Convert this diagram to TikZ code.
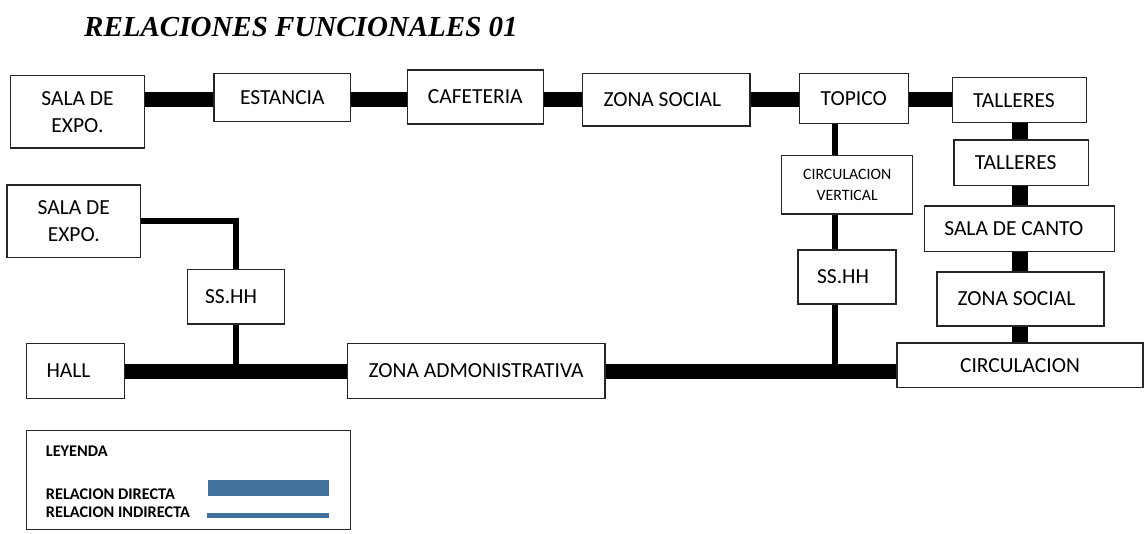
\documentclass[tikz,border=0pt]{standalone}
\usepackage{fontspec}
\setmainfont{Carlito}
\newfontfamily\titlefont{Liberation Serif}
\definecolor{legblue}{RGB}{65,113,156}
\begin{document}
\begin{tikzpicture}[x=1pt,y=-1pt,
  bx/.style={draw=black!85, line width=1.1pt, fill=white, inner sep=0pt,
             font=\fontsize{21.5}{27.3}\selectfont},
  sz/.style 2 args={minimum width=#1pt, minimum height=#2pt},
  smalltxt/.style={font=\fontsize{15.8}{20.3}\selectfont},
  dline/.style={line width=15.5pt, black},
  iline/.style={line width=5.5pt, black},
  legtxt/.style={anchor=base west, inner sep=0pt, font=\bfseries\fontsize{16.3}{19}\selectfont},
  legdir/.style={line width=16pt, legblue},
  legind/.style={line width=5.7pt, legblue}]
\useasboundingbox (0,0) rectangle (1145,533);

% title
\node[anchor=base west, inner sep=0pt,
      font=\titlefont\bfseries\itshape\fontsize{29}{34}\selectfont] (title) at (84,36.7) {RELACIONES FUNCIONALES 01};

% boxes top row
\node[bx, sz={133.6}{72.3}, align=center] (sala1) at (77.5,111.85) {SALA DE\\EXPO.};
\node[bx, sz={136.7}{48.4}] (estancia) at (282.35,97.5) {ESTANCIA};
\node[bx, sz={136}{54}] (cafe) at (475.3,97) {CAFETERIA};
\node[bx, sz={167.3}{52.7}] (zs1) at (666.35,99.65) {ZONA SOCIAL\kern8pt};
\node[bx, sz={109}{50}] (topico) at (853.8,98.3) {TOPICO};
\node[bx, sz={134.4}{45}] (tal1) at (1019.5,100.2) {TALLERES\kern11pt};

% right columns
\node[bx, sz={131}{58.3}, smalltxt, align=center] (cv) at (847.2,184.85) {CIRCULACION\\VERTICAL};
\node[bx, sz={98}{54}] (ssr) at (847,277) {SS.HH\kern8pt};
\node[bx, sz={134.3}{45.7}] (tal2) at (1021.15,162.85) {TALLERES\kern11pt};
\node[bx, sz={190}{45.7}] (canto) at (1019.3,228.85) {SALA DE CANTO\kern11pt};
\node[bx, sz={167}{54}] (zs2) at (1020.5,299) {ZONA SOCIAL\kern8pt};
\node[bx, sz={246}{44.7}] (circ) at (1020,365.35) {CIRCULACION};

% left / bottom
\node[bx, sz={133.7}{72.3}, align=center] (sala2) at (73.85,221.15) {SALA DE\\EXPO.};
\node[bx, sz={96.6}{54.7}] (ssl) at (236,296.65) {SS.HH\kern10pt};
\node[bx, sz={97.6}{55}] (hall) at (75.5,370.8) {HALL\kern14pt};
\node[bx, sz={257.7}{55}] (zadm) at (476.15,370.8) {ZONA ADMONISTRATIVA};

% helper coordinates for connector lines
\coordinate (ytop) at (0,99.5);
\coordinate (ybot) at (0,371.5);
\coordinate (xv) at (835,0);
\coordinate (xr) at (1020,0);

% indirect relations
\draw[iline] (sala2.east) -| (ssl.north);
\draw[iline] (ssl.south) -- (ssl.south |- ybot);
\draw[iline] (topico.south -| xv) -- (cv.north -| xv);
\draw[iline] (cv.south -| xv) -- (ssr.north -| xv);
\draw[iline] (ssr.south -| xv) -- (xv |- ybot);

% direct relations
\draw[dline] (sala1.east |- ytop) -- (estancia.west |- ytop);
\draw[dline] (estancia.east |- ytop) -- (cafe.west |- ytop);
\draw[dline] (cafe.east |- ytop) -- (zs1.west |- ytop);
\draw[dline] (zs1.east |- ytop) -- (topico.west |- ytop);
\draw[dline] (topico.east |- ytop) -- (tal1.west |- ytop);
\draw[dline] (tal1.south -| xr) -- (tal2.north -| xr);
\draw[dline] (tal2.south -| xr) -- (canto.north -| xr);
\draw[dline] (canto.south -| xr) -- (zs2.north -| xr);
\draw[dline] (zs2.south -| xr) -- (circ.north -| xr);
\draw[dline] (hall.east |- ybot) -- (zadm.west |- ybot);
\draw[dline] (zadm.east |- ybot) -- (circ.west |- ybot);

% legend
\node[draw=black!85, line width=1.1pt, inner sep=0pt, sz={324}{98.6}] (leg) at (188.7,480) {};
\node[legtxt] (leyenda) at (45.7,456.7) {LEYENDA};
\node[legtxt] (ldir) at (45.7,499) {RELACION DIRECTA};
\node[legtxt] (lind) at (45.7,517.3) {RELACION INDIRECTA};
\draw[legdir] (208.3,488) -- (329.3,488);
\draw[legind] (207.3,515.5) -- (329.3,515.5);
\end{tikzpicture}
\end{document}
